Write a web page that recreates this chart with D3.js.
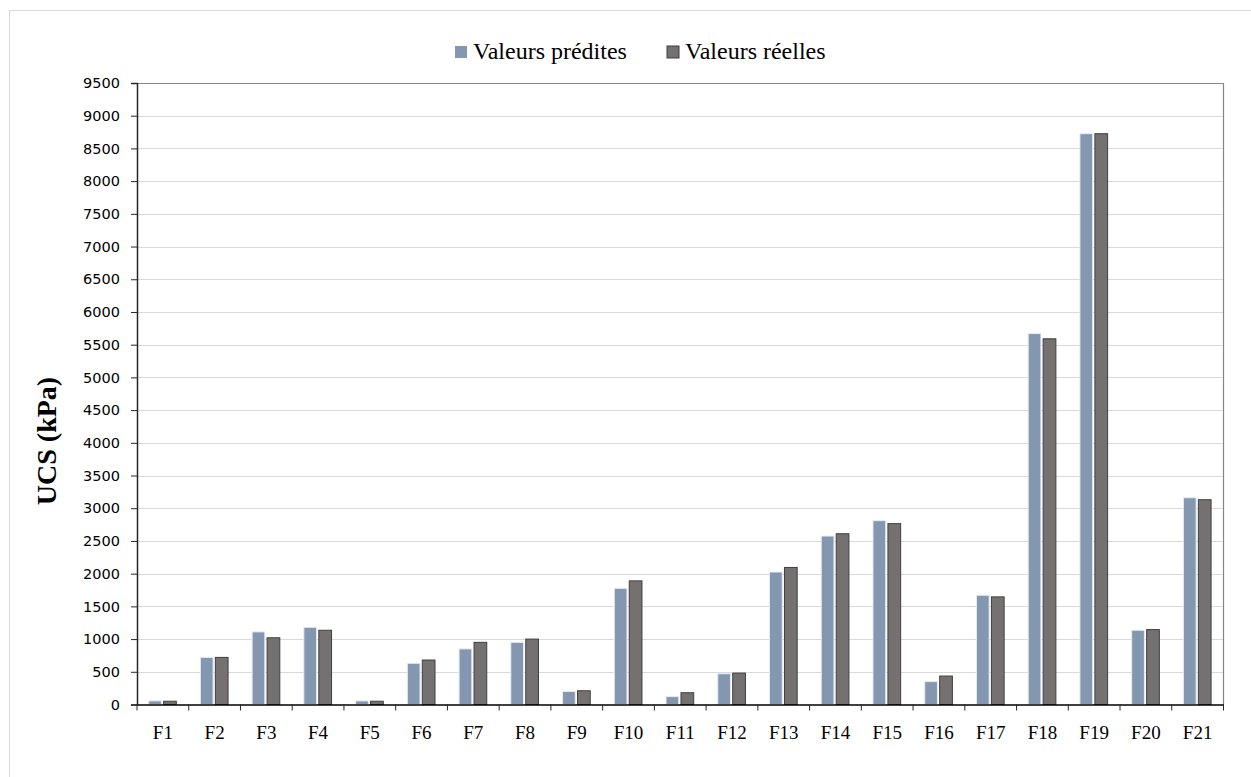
<!DOCTYPE html>
<html>
<head>
<meta charset="utf-8">
<script src="https://cdn.jsdelivr.net/npm/d3@7"></script>
<style>
  body { margin: 0; background: #fff; }
  svg { display: block; }
</style>
</head>
<body>
<div id="chart"></div>
<script>
// data (kPa)
const categories = ["F1","F2","F3","F4","F5","F6","F7","F8","F9","F10","F11","F12","F13","F14","F15","F16","F17","F18","F19","F20","F21"];
const seriesNames = ["Valeurs prédites", "Valeurs réelles"];
const predites = [55, 720, 1110, 1180, 55, 630, 850, 950, 200, 1775, 120, 470, 2025, 2575, 2810, 350, 1670, 5670, 8725, 1135, 3160];
const reelles  = [50, 720, 1020, 1135, 50, 680, 950, 1000, 210, 1890, 180, 480, 2095, 2610, 2765, 435, 1645, 5590, 8725, 1145, 3130];
const yTicks = d3.range(0, 9501, 500);

const width = 1251, height = 777;
const plot = {left: 137, right: 1223.5, top: 83, bottom: 704.5};
const serif = "'Liberation Serif', 'Times New Roman', serif";

const colors = {"Valeurs prédites": "#8497b0", "Valeurs réelles": "#767171"};
const strokes = {"Valeurs prédites": "#e6ebf2", "Valeurs réelles": "#3f3f3f"};

const svg = d3.select("#chart").append("svg")
    .attr("width", width)
    .attr("height", height);

// outer chart border
svg.append("rect")
    .attr("x", 9.5).attr("y", 10.5)
    .attr("width", 1300).attr("height", 900)
    .attr("fill", "none")
    .attr("stroke", "#d9d9d9");

const y = d3.scaleLinear()
    .domain([0, 9500])
    .range([plot.bottom, plot.top]);

const x = d3.scaleBand()
    .domain(categories)
    .range([plot.left, plot.right])
    .padding(0);

const bw = x.bandwidth();
const xInner = d3.scaleBand()
    .domain(seriesNames)
    .range([bw * 0.225, bw * 0.76])
    .paddingInner(0.15);

// gridlines
svg.append("g")
    .selectAll("line")
    .data(yTicks.filter(d => d > 0))
    .join("line")
    .attr("x1", plot.left).attr("x2", plot.right)
    .attr("y1", d => Math.round(y(d)) + 0.5)
    .attr("y2", d => Math.round(y(d)) + 0.5)
    .attr("stroke", "#d9d9d9");

// plot border (top / right)
svg.append("path")
    .attr("d", `M${plot.left},${plot.top + 0.5}H${plot.right}V${plot.bottom}`)
    .attr("fill", "none")
    .attr("stroke", "#868686")
    .attr("stroke-width", 1.2);

// bars
const rows = categories.map((c, i) => ({cat: c, values: [
    {name: seriesNames[0], v: predites[i]},
    {name: seriesNames[1], v: reelles[i]}
]}));

svg.append("g")
    .selectAll("g")
    .data(rows)
    .join("g")
    .attr("transform", d => `translate(${x(d.cat)},0)`)
    .selectAll("rect")
    .data(d => d.values)
    .join("rect")
    .attr("x", d => xInner(d.name))
    .attr("y", d => y(d.v))
    .attr("width", xInner.bandwidth())
    .attr("height", d => y(0) - y(d.v))
    .attr("fill", d => colors[d.name])
    .attr("stroke", d => strokes[d.name])
    .attr("stroke-width", 1);

// y axis
const yAxis = d3.axisLeft(y)
    .tickValues(yTicks)
    .tickSize(6)
    .tickPadding(11)
    .tickFormat(d3.format("d"));

const gy = svg.append("g")
    .attr("transform", `translate(${plot.left},0)`)
    .call(yAxis);
gy.select(".domain").attr("stroke", "#262626").attr("stroke-width", 1.5);
gy.selectAll(".tick line").attr("stroke", "#262626");
gy.selectAll(".tick text")
    .attr("font-family", "'DejaVu Sans', sans-serif")
    .attr("font-size", "14.5px")
    .attr("fill", "#000");

// x axis: labels centred, ticks on the band edges
const xAxis = d3.axisBottom(x).tickSize(0).tickPadding(21);
const gx = svg.append("g")
    .attr("transform", `translate(0,${plot.bottom})`)
    .call(xAxis);
gx.select(".domain").attr("stroke", "#000").attr("stroke-width", 1.5);
gx.selectAll(".tick text")
    .attr("font-family", serif)
    .attr("font-size", "19px")
    .attr("fill", "#000");

gx.selectAll(".edge")
    .data(categories.map(c => x(c)).concat([plot.right]))
    .join("line")
    .attr("class", "edge")
    .attr("x1", d => d).attr("x2", d => d)
    .attr("y1", 0).attr("y2", 6)
    .attr("stroke", "#262626");

// y axis title
svg.append("text")
    .attr("transform", "translate(56,441) rotate(-90)")
    .attr("text-anchor", "middle")
    .attr("font-family", serif)
    .attr("font-weight", "bold")
    .attr("font-size", "28px")
    .text("UCS (kPa)");

// legend
const legendX = [455, 667];
const legend = svg.append("g")
    .selectAll("g")
    .data(seriesNames)
    .join("g")
    .attr("transform", (d, i) => `translate(${legendX[i]},46)`);

legend.append("rect")
    .attr("width", 12).attr("height", 12)
    .attr("fill", d => colors[d])
    .attr("stroke", d => d === seriesNames[1] ? "#3f3f3f" : "none");

legend.append("text")
    .attr("x", 18).attr("y", 12.5)
    .attr("font-family", serif)
    .attr("font-size", "24px")
    .text(d => d);
</script>
</body>
</html>
